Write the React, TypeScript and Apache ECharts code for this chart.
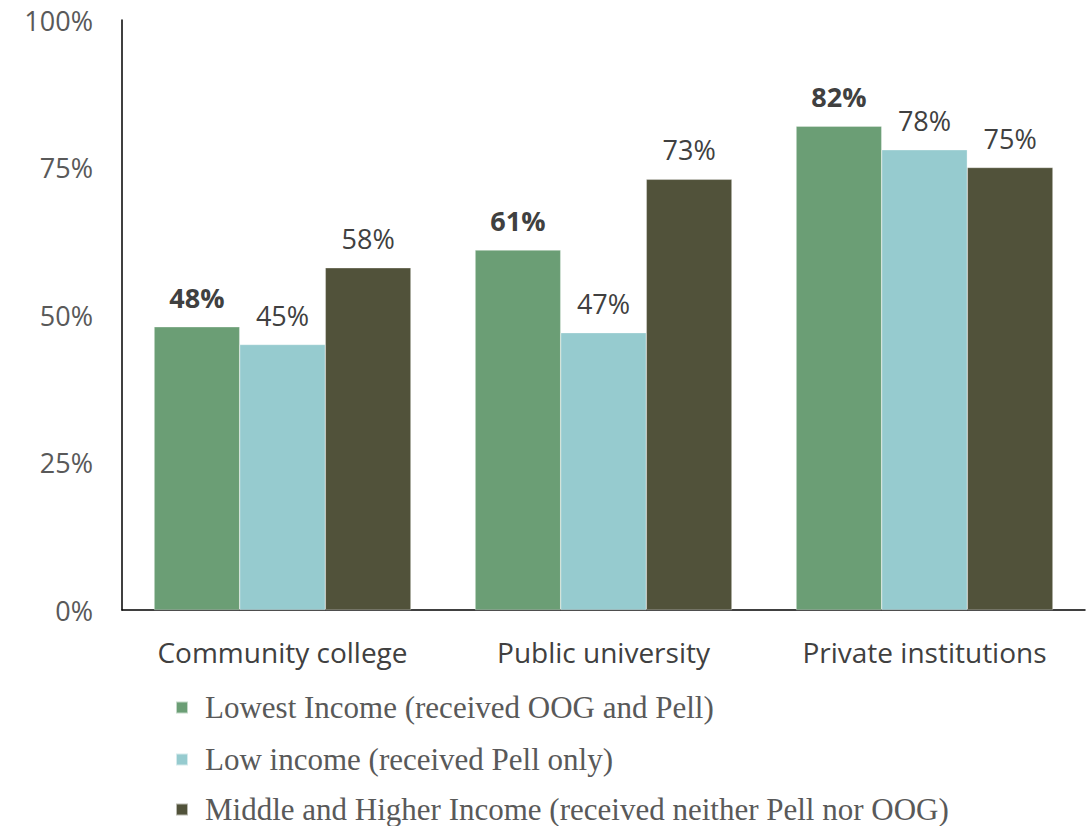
import React, { useEffect, useRef } from "react";
import * as echarts from "echarts";

const categories = ["Community college", "Public university", "Private institutions"];
const seriesNames = [
  "Lowest Income (received OOG and Pell)",
  "Low income (received Pell only)",
  "Middle and Higher Income (received neither Pell nor OOG)",
];
const lowestIncome = [48, 61, 82];
const lowIncome = [45, 47, 78];
const middleHigher = [58, 73, 75];
const yTicks = [0, 25, 50, 75, 100];

const colors = ["#6B9E75", "#96CBCF", "#51523A"];
const legendTops = [692, 744, 794];

export default function App() {
  const ref = useRef<HTMLDivElement>(null);
  useEffect(() => {
    if (!ref.current) return;
    const chart = echarts.init(ref.current, null, { renderer: "svg" });
    const sans = "'Open Sans', 'Noto Sans', sans-serif";
    const mk = (name: string, data: number[], i: number, bold: boolean) => ({
      name,
      type: "bar",
      data,
      barGap: "0%",
      barCategoryGap: "20%",
      itemStyle: { color: colors[i], borderColor: "rgba(255,255,255,0.6)", borderWidth: 0.5 },
      label: {
        show: true,
        position: "top",
        distance: 16,
        formatter: "{c}%",
        fontFamily: sans,
        fontSize: 27,
        fontWeight: bold ? "bold" : "normal",
        color: "#404040",
      },
    });
    const legends = seriesNames.map((n, i) => ({
      orient: "vertical",
      left: 175,
      top: legendTops[i],
      padding: 0,
      itemWidth: 12,
      itemHeight: 12,
      icon: "rect",
      textStyle: {
        fontFamily: "'Liberation Serif', 'DejaVu Serif', serif",
        fontSize: 31,
        color: "#595959",
        padding: [0, 0, 0, 12],
      },
      data: [n],
    }));
    chart.setOption({
      animation: false,
      color: colors,
      grid: { left: 122, right: 4, top: 20, bottom: 216, containLabel: false },
      legend: legends,
      xAxis: {
        type: "category",
        data: categories,
        axisLine: { lineStyle: { color: "#000", width: 1.5 } },
        axisTick: { show: false },
        axisLabel: { fontFamily: sans, fontSize: 28, color: "#404040", margin: 28, interval: 0 },
      },
      yAxis: {
        type: "value",
        min: yTicks[0],
        max: yTicks[yTicks.length - 1],
        interval: 25,
        splitLine: { show: false },
        axisLine: { show: true, lineStyle: { color: "#000", width: 1.5 } },
        axisTick: { show: false },
        axisLabel: { fontFamily: sans, fontSize: 27, color: "#595959", margin: 29, formatter: "{value}%" },
      },
      series: [
        mk(seriesNames[0], lowestIncome, 0, true),
        mk(seriesNames[1], lowIncome, 1, false),
        mk(seriesNames[2], middleHigher, 2, false),
      ],
    });
    return () => chart.dispose();
  }, []);
  return <div ref={ref} style={{ width: 1089, height: 826, position: "absolute", left: 0, top: 0 }} />;
}
